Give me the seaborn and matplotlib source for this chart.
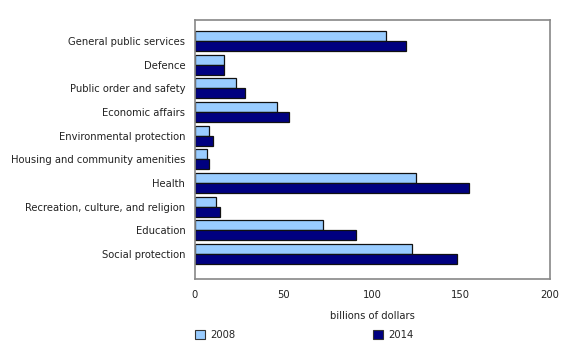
import matplotlib
matplotlib.use("Agg")
import matplotlib.pyplot as plt
import seaborn as sns
import pandas as pd
from matplotlib.patches import Patch

categories = ["General public services", "Defence", "Public order and safety",
              "Economic affairs", "Environmental protection",
              "Housing and community amenities", "Health",
              "Recreation, culture, and religion", "Education", "Social protection"]
values_2008 = [107.5, 16.1, 23.0, 46.3, 7.9, 7.0, 124.6, 12.1, 72.3, 122.6]
values_2014 = [118.8, 16.2, 28.1, 53.3, 10.0, 8.1, 154.8, 14.2, 90.6, 147.9]
years = ["2008", "2014"]
xticks = [0, 50, 100, 150, 200]

df = pd.DataFrame({
    "category": categories * 2,
    "value": values_2008 + values_2014,
    "year": [years[0]] * len(categories) + [years[1]] * len(categories),
})

sns.set_style("white")
plt.rcParams["font.family"] = ["DejaVu Sans"]
FS = 7.2
plt.rcParams["font.size"] = FS

colors = {"2008": "#99CCFF", "2014": "#000080"}

fig = plt.figure(figsize=(5.8, 3.45), dpi=100)
ax = fig.add_axes([195/580, 1-279/345, (549.5-195)/580, (279-19.5)/345])

sns.barplot(data=df, y="category", x="value", hue="year", orient="h",
            palette=colors, saturation=1, width=0.85, edgecolor="#111111",
            linewidth=0.9, ax=ax, legend=False)

ax.set_xlim(0, 200)
ax.set_ylim(10.06, -0.91)
ax.set_xticks(xticks)
ax.set_xticklabels([str(t) for t in xticks], fontsize=FS, color="#222222")
ax.tick_params(axis="x", direction="in", length=4, width=1, color="#555555", pad=8)
ax.tick_params(axis="y", length=0, pad=7, labelsize=FS, labelcolor="#222222")
ax.set_ylabel("")
ax.set_xlabel("billions of dollars", fontsize=FS, color="#222222", labelpad=8)
for s in ax.spines.values():
    s.set_visible(True)
    s.set_color("#888888")
    s.set_linewidth(1.2)

handles = [Patch(facecolor=colors[y], edgecolor="#333333", linewidth=0.8, label=y) for y in years]
fig.legend(handles=handles, loc="center left", bbox_to_anchor=(186/580, 1-335/345),
           ncol=2, frameon=False, handlelength=1.0, handleheight=1.0,
           handletextpad=0.5, columnspacing=13.8, fontsize=FS)

fig.savefig("out.png", dpi=100)
